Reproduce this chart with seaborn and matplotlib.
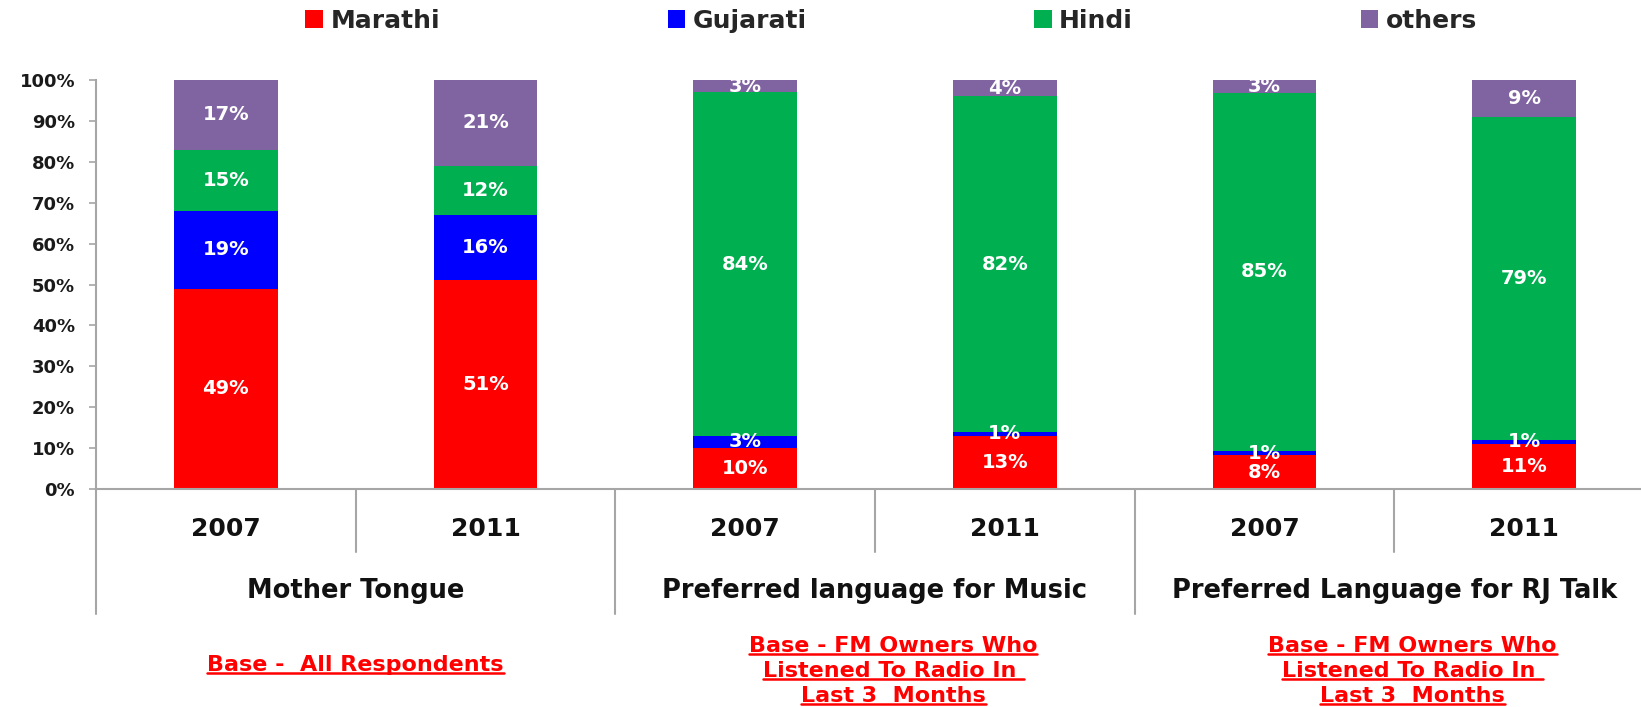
import matplotlib.pyplot as plt
import seaborn as sns
import pandas as pd
import numpy as np
from matplotlib.lines import Line2D
from matplotlib.patches import Patch

# Data (labels are the raw values; bars are 100% stacked)
years = ["2007", "2011", "2007", "2011", "2007", "2011"]
groups = ["Mother Tongue", "Preferred language for Music", "Preferred Language for RJ Talk"]
base_notes = [
    ["Base -  All Respondents"],
    ["Base - FM Owners Who", "Listened To Radio In ", "Last 3  Months"],
    ["Base - FM Owners Who", "Listened To Radio In ", "Last 3  Months"],
]
languages = ["Marathi", "Gujarati", "Hindi", "others"]
marathi = [49, 51, 10, 13, 8, 11]
gujarati = [19, 16, 3, 1, 1, 1]
hindi = [15, 12, 84, 82, 85, 79]
others = [17, 21, 3, 4, 3, 9]
colors = ["#FF0000", "#0000FF", "#00B050", "#8064A2"]

keys = [f"{groups[i // 2]} {years[i]}" for i in range(len(years))]
df = pd.DataFrame({"key": keys, "Marathi": marathi, "Gujarati": gujarati,
                   "Hindi": hindi, "others": others})
pct = df[languages].div(df[languages].sum(axis=1), axis=0) * 100
cum = pct.cumsum(axis=1)

sns.set_style("white")
plt.rcParams["font.family"] = ["DejaVu Sans"]

fig = plt.figure(figsize=(16.41, 7.07), dpi=100)
ax = fig.add_axes([96 / 1641, 218 / 707, 1558 / 1641, 409 / 707])

# stacked bars: draw cumulative totals from the top layer down
for lang, col in zip(reversed(languages), reversed(colors)):
    sns.barplot(x=df["key"], y=cum[lang], color=col, saturation=1, width=0.4,
                linewidth=0, ax=ax)

for i in range(len(keys)):
    for lang in languages:
        h = pct.loc[i, lang]
        mid = cum.loc[i, lang] - h / 2
        ax.text(i, mid, f"{df.loc[i, lang]}%", ha="center", va="center",
                color="white", fontsize=14, fontweight="bold")

ax.set_xlim(-0.5, 5.5)
ax.set_ylim(0, 100)
ax.set_yticks(range(0, 101, 10))
ax.set_yticklabels([f"{v}%" for v in range(0, 101, 10)],
                   fontweight="bold", fontsize=13, color="#1a1a1a")
ax.set_xticks([])
ax.set_xlabel("")
ax.set_ylabel("")
ax.tick_params(axis="y", length=5, width=1.2, color="#a6a6a6", pad=10, left=True)
for s in ["top", "right"]:
    ax.spines[s].set_visible(False)
for s in ["left", "bottom"]:
    ax.spines[s].set_color("#a6a6a6")
    ax.spines[s].set_linewidth(1.5)

# category axis: year labels, group labels and separators
tr = ax.get_xaxis_transform()
for i, y in enumerate(years):
    ax.text(i, -0.098, y, transform=tr, ha="center", va="center",
            fontsize=18, fontweight="bold", color="#111111")
for x in [0.5, 2.5, 4.5]:
    ax.plot([x, x], [0, -0.154], transform=tr, color="#a6a6a6", lw=1.5, clip_on=False)
for x in [-0.5, 1.5, 3.5, 5.5]:
    ax.plot([x, x], [0, -0.306], transform=tr, color="#a6a6a6", lw=1.5, clip_on=False)
for g, name in enumerate(groups):
    ax.text(2 * g + 0.5, -0.249, name, transform=tr, ha="center", va="center",
            fontsize=18.5, fontweight="bold", color="#111111")

# base notes in red, underlined
note_texts = []
note_x = [0.5, 2.57, 4.57]
for g, lines in enumerate(base_notes):
    if len(lines) == 1:
        ys = [-0.43]
    else:
        ys = [-0.384, -0.445, -0.505]
    for line, yy in zip(lines, ys):
        t = ax.text(note_x[g], yy, line, transform=tr, ha="center", va="center",
                    fontsize=16, fontweight="bold", color="#FF0000")
        note_texts.append(t)

fig.canvas.draw()
renderer = fig.canvas.get_renderer()
W, H = fig.bbox.width, fig.bbox.height
for t in note_texts:
    bb = t.get_window_extent(renderer)
    yline = (bb.y0 + 2) / H
    fig.add_artist(Line2D([bb.x0 / W, bb.x1 / W], [yline, yline],
                          color="#FF0000", lw=1.8))

handles = [Patch(facecolor=c, edgecolor="none") for c in colors]
fig.legend(handles, languages, loc="center", bbox_to_anchor=(0.543, 0.971), ncol=4,
           frameon=False, handlelength=0.7, handleheight=0.7,
           handletextpad=0.3, columnspacing=9.1,
           prop={"weight": "bold", "size": 18})

fig.savefig("out.png", dpi=100)
